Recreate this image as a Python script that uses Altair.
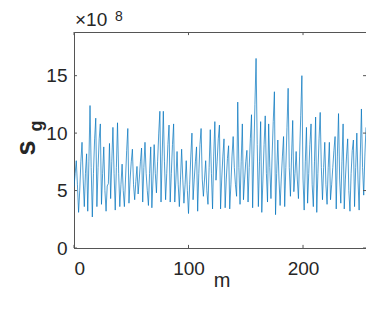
import altair as alt
import pandas as pd

# values in units of 1e8
sg_values = [
    5.3, 6.5, 7.6, 5.5, 3.1, 5.0, 7.5, 9.2, 6.0, 3.6,
    6.5, 8.2, 3.2, 7.5, 12.4, 7.0, 2.7, 6.5, 9.5, 11.3,
    3.6, 7.0, 9.5, 10.8, 3.8, 6.5, 8.8, 5.0, 3.2, 5.4,
    5.6, 9.1, 4.3, 7.5, 10.5, 6.5, 3.3, 7.0, 10.9, 6.5,
    3.6, 5.5, 7.3, 5.0, 3.6, 6.0, 8.5, 10.4, 3.9, 6.0,
    7.5, 8.6, 5.5, 4.2, 5.8, 7.1, 4.7, 6.0, 7.5, 8.7,
    4.0, 7.0, 9.2, 6.5, 5.0, 3.7, 6.5, 8.8, 3.5, 6.0,
    9.0, 6.5, 4.8, 7.5, 10.0, 11.9, 4.0, 8.0, 11.9, 7.5,
    4.2, 6.5, 9.0, 10.7, 4.0, 6.5, 9.0, 10.8, 4.0, 6.0,
    8.4, 5.5, 3.6, 6.0, 8.6, 6.0, 3.9, 5.5, 7.6, 5.0,
    3.0, 5.5, 8.0, 10.0, 4.2, 6.0, 7.5, 8.8, 3.2, 6.5,
    9.0, 10.4, 6.0, 4.5, 6.0, 7.6, 5.0, 3.8, 7.0, 10.3,
    6.5, 3.4, 8.0, 11.0, 5.9, 7.5, 9.5, 10.7, 3.4, 6.0,
    8.0, 9.5, 3.5, 6.0, 7.8, 8.9, 3.4, 5.5, 8.0, 9.7,
    7.0, 5.5, 4.5, 12.7, 7.0, 3.8, 7.5, 10.8, 4.2, 6.0,
    7.5, 8.5, 4.0, 7.0, 9.5, 11.6, 3.5, 8.0, 12.5, 16.5,
    9.0, 3.6, 7.5, 11.0, 3.1, 6.0, 9.0, 11.5, 6.5, 4.0,
    10.8, 7.0, 4.3, 8.0, 11.0, 13.6, 2.9, 6.5, 9.4, 6.0,
    3.7, 6.0, 8.0, 9.7, 3.6, 7.0, 10.5, 13.9, 7.0, 4.5,
    8.0, 11.1, 4.9, 6.5, 8.4, 6.0, 4.3, 8.0, 11.5, 15.0,
    6.0, 3.3, 7.5, 10.5, 3.9, 6.5, 9.0, 10.8, 5.5, 3.6,
    7.5, 11.4, 3.1, 6.5, 9.5, 11.8, 7.0, 4.2, 7.0, 9.2,
    5.5, 3.8, 7.0, 9.2, 4.2, 5.5, 7.0, 8.5, 9.7, 3.4,
    8.0, 11.7, 6.0, 3.9, 7.5, 10.8, 3.4, 6.0, 8.0, 9.5,
    5.0, 3.2, 6.5, 8.5, 9.4, 3.6, 7.0, 10.0, 6.0, 3.3,
    8.0, 12.1, 7.0, 4.6, 8.0, 10.5,
]
m_values = list(range(len(sg_values)))

x_ticks = [0, 100, 200]
y_ticks = [0, 5, 10, 15]
x_max = 255
y_max = 18.8

FONT = "Liberation Sans"
TXT = "#262626"
AX = "#555555"

df = pd.DataFrame({"m": m_values, "sg": sg_values})
xt = pd.DataFrame({"v": x_ticks})
yt = pd.DataFrame({"v": y_ticks})

xs = alt.Scale(domain=[0, x_max], nice=False, zero=False)
ys = alt.Scale(domain=[0, y_max], nice=False, zero=False)

line = alt.Chart(df).mark_line(color="#0072BD", strokeWidth=0.7, clip=True).encode(
    x=alt.X("m:Q", scale=xs,
            axis=alt.Axis(values=x_ticks, title=None, ticks=False, tickSize=0,
                          labelPadding=11, grid=False,
                          domainColor=AX, labelFontSize=19,
                          labelColor=TXT, labelFont=FONT)),
    y=alt.Y("sg:Q", scale=ys,
            axis=alt.Axis(values=y_ticks, title=None, ticks=False, tickSize=0,
                          labelPadding=7, grid=False, domainColor=AX,
                          labelFontSize=19, labelColor=TXT, labelFont=FONT)),
)

tick_len_y = 0.27
tick_len_x = 2.6

xb = alt.Chart(xt).mark_rule(color=AX, strokeWidth=1).encode(
    x=alt.X("v:Q", scale=xs), y=alt.datum(0), y2=alt.datum(tick_len_y))
xtop = alt.Chart(xt).mark_rule(color=AX, strokeWidth=1).encode(
    x=alt.X("v:Q", scale=xs), y=alt.datum(y_max - tick_len_y), y2=alt.datum(y_max))
yl = alt.Chart(yt).mark_rule(color=AX, strokeWidth=1).encode(
    y=alt.Y("v:Q", scale=ys), x=alt.datum(0), x2=alt.datum(tick_len_x))
yr = alt.Chart(yt).mark_rule(color=AX, strokeWidth=1).encode(
    y=alt.Y("v:Q", scale=ys), x=alt.datum(x_max - tick_len_x), x2=alt.datum(x_max))

one = pd.DataFrame({"k": [0]})

s_txt = alt.Chart(one).mark_text(text="s", font=FONT, fontSize=27, fontWeight="bold",
                                 angle=270, align="center", baseline="middle",
                                 color=TXT).encode(x=alt.value(-47), y=alt.value(116))
g_txt = alt.Chart(one).mark_text(text="g", font=FONT, fontSize=18, fontWeight="bold",
                                 angle=270, align="center", baseline="middle",
                                 color=TXT).encode(x=alt.value(-37), y=alt.value(94))
e_txt = alt.Chart(one).mark_text(text="×10", font=FONT, fontSize=19,
                                 align="left", baseline="alphabetic",
                                 color=TXT).encode(x=alt.value(1), y=alt.value(-6))
p_txt = alt.Chart(one).mark_text(text="8", font=FONT, fontSize=14,
                                 align="left", baseline="alphabetic",
                                 color=TXT).encode(x=alt.value(41), y=alt.value(-11))
m_txt = alt.Chart(one).mark_text(text="m", font=FONT, fontSize=20,
                                 align="center", baseline="alphabetic",
                                 color=TXT).encode(x=alt.value(148), y=alt.value(255))

chart = alt.layer(line, xb, xtop, yl, yr, s_txt, g_txt, e_txt, p_txt, m_txt).properties(
    width=292, height=216,
    autosize=alt.AutoSizeParams(type="none"),
    padding={"left": 66, "top": 24, "right": 0, "bottom": 44},
    background="white",
).configure_view(stroke=AX, strokeWidth=1)

chart.save("out.html", embed_options={"renderer": "svg", "actions": False})
